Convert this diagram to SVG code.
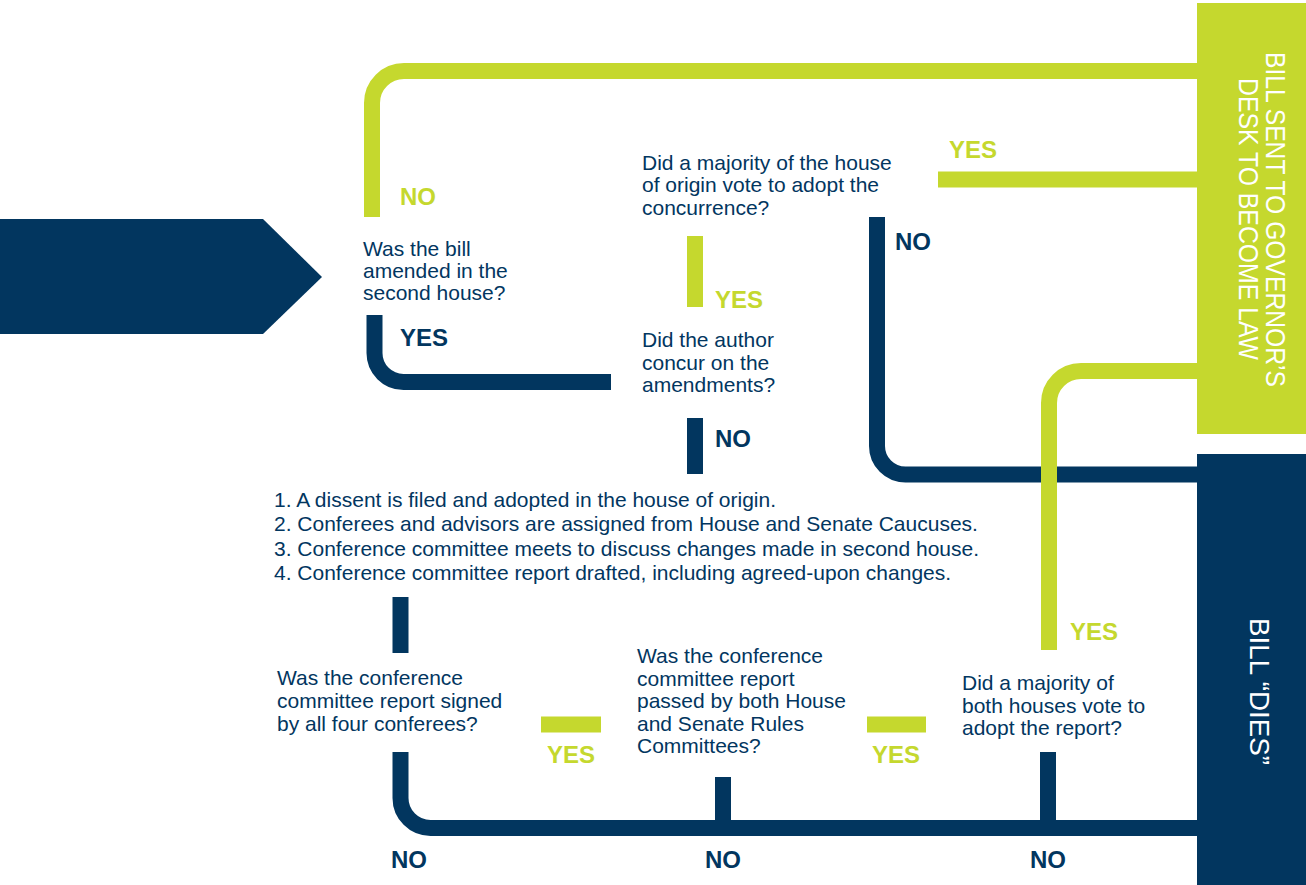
<svg xmlns="http://www.w3.org/2000/svg" width="1306" height="885" viewBox="0 0 1306 885">
<style>
.g{stroke:#C5D82E;stroke-width:16;fill:none}
.n{stroke:#02365F;stroke-width:16;fill:none}
.t{font-family:"Liberation Sans",Arial,sans-serif;font-size:21px;fill:#02365F}
.lg{font-family:"Liberation Sans",Arial,sans-serif;font-size:24px;font-weight:bold;fill:#C5D82E}
.ln{font-family:"Liberation Sans",Arial,sans-serif;font-size:24px;font-weight:bold;fill:#02365F}
.v{font-family:"Liberation Sans",Arial,sans-serif;font-size:28px;fill:#FFFFFF;text-anchor:middle}
</style>
<rect width="1306" height="885" fill="#FFFFFF"/>
<g id="connectors">
<path class="g" d="M372,217 V103 A32,32 0 0 1 404,71 H1197"/>
<path class="n" d="M374.5,315 V353 A29,29 0 0 0 403.5,382 H611"/>
<path class="g" d="M938,179.5 H1197"/>
<path class="n" d="M877,217 V446 A28.5,28.5 0 0 0 905.5,474.5 H1197"/>
<path class="g" d="M695,236 V307"/>
<path class="n" d="M695,418 V474"/>
<path class="g" d="M1197,371 H1081 A32,32 0 0 0 1049,403 V650"/>
<path class="n" d="M400.5,597 V653"/>
<path class="n" d="M400.5,752 V798 A30,30 0 0 0 430.5,828 H1197"/>
<path class="n" d="M723,777 V828"/>
<path class="n" d="M1048,752 V828"/>
<path class="g" d="M541,724.5 H601"/>
<path class="g" d="M867,724.5 H926"/>
<text class="lg" x="400" y="205">NO</text>
<text class="ln" x="400" y="346">YES</text>
<text class="lg" x="949" y="158">YES</text>
<text class="ln" x="895" y="250">NO</text>
<text class="lg" x="715" y="308">YES</text>
<text class="ln" x="715" y="447">NO</text>
<text class="lg" x="1070" y="640">YES</text>
<text class="lg" x="547" y="763">YES</text>
<text class="lg" x="872" y="763">YES</text>
<text class="ln" x="391" y="868">NO</text>
<text class="ln" x="705" y="868">NO</text>
<text class="ln" x="1030" y="868">NO</text>
</g>
<g id="start">
<polygon points="0,219 263,219 322,277 263,334 0,334" fill="#02365F"/>
</g>
<g id="q-amended">
<text class="t" x="363" y="256">Was the bill</text>
<text class="t" x="363" y="278">amended in the</text>
<text class="t" x="363" y="300">second house?</text>
</g>
<g id="q-concurrence">
<text class="t" x="642" y="169.5">Did a majority of the house</text>
<text class="t" x="642" y="192">of origin vote to adopt the</text>
<text class="t" x="642" y="214.5">concurrence?</text>
</g>
<g id="q-author">
<text class="t" x="642" y="347">Did the author</text>
<text class="t" x="642" y="370">concur on the</text>
<text class="t" x="642" y="392">amendments?</text>
</g>
<g id="conference-steps">
<text class="t" x="274" y="507">1. A dissent is filed and adopted in the house of origin.</text>
<text class="t" x="274" y="531">2. Conferees and advisors are assigned from House and Senate Caucuses.</text>
<text class="t" x="274" y="556">3. Conference committee meets to discuss changes made in second house.</text>
<text class="t" x="274" y="580">4. Conference committee report drafted, including agreed-upon changes.</text>
</g>
<g id="q-signed">
<text class="t" x="277" y="685">Was the conference</text>
<text class="t" x="277" y="708">committee report signed</text>
<text class="t" x="277" y="731">by all four conferees?</text>
</g>
<g id="q-rules">
<text class="t" x="637" y="663">Was the conference</text>
<text class="t" x="637" y="686">committee report</text>
<text class="t" x="637" y="708">passed by both House</text>
<text class="t" x="637" y="731">and Senate Rules</text>
<text class="t" x="637" y="753">Committees?</text>
</g>
<g id="q-both-houses">
<text class="t" x="962" y="690">Did a majority of</text>
<text class="t" x="962" y="713">both houses vote to</text>
<text class="t" x="962" y="735">adopt the report?</text>
</g>
<g id="end-law">
<rect x="1197" y="3" width="109" height="431" fill="#C5D82E"/>
<text class="v" transform="translate(1266,219.5) rotate(90)" textLength="335" lengthAdjust="spacingAndGlyphs">BILL SENT TO GOVERNOR’S</text>
<text class="v" transform="translate(1239,219) rotate(90)" textLength="282" lengthAdjust="spacingAndGlyphs">DESK TO BECOME LAW</text>
</g>
<g id="end-dies">
<rect x="1197" y="454" width="109" height="431" fill="#02365F"/>
<text class="v" transform="translate(1250,691.5) rotate(90)" textLength="147" lengthAdjust="spacingAndGlyphs">BILL “DIES”</text>
</g>
</svg>
